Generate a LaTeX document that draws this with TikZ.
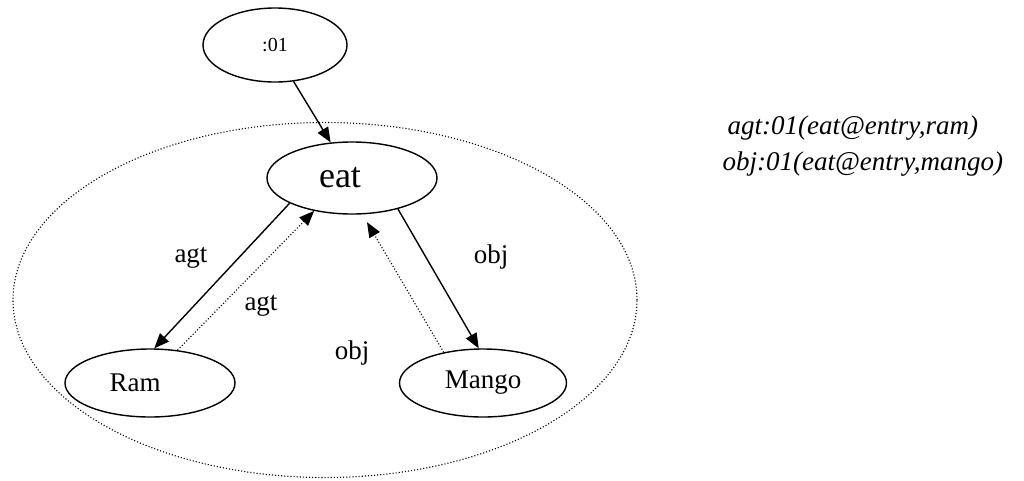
\documentclass[tikz,border=0pt]{standalone}
\usepackage{fontspec}
\setmainfont{Liberation Serif}
\usetikzlibrary{shapes.geometric,arrows.meta}
\tikzset{
  concept/.style={draw, ellipse, line width=1.4pt, inner sep=0pt, minimum width=170pt, minimum height=70pt, font=\fontsize{27}{32}\selectfont},
  rel/.style={line width=1.4pt, -{Triangle[length=15pt,width=12pt]}},
  relback/.style={line width=1.1pt, dotted, -{Triangle[length=15pt,width=12pt]}},
  lbl/.style={font=\fontsize{27}{32}\selectfont},
  expr/.style={anchor=west, font=\fontsize{27}{32}\selectfont\itshape}
}
\begin{document}
\begin{tikzpicture}[x=1pt,y=-1pt]
\useasboundingbox (0,0) rectangle (1024,480);
\node[draw, dotted, line width=1.1pt, ellipse, inner sep=0pt, minimum width=624pt, minimum height=355pt] (scope01) at (325,300) {};
\node[concept, minimum width=144pt, minimum height=74pt, font=\fontsize{20}{24}\selectfont] (id) at (275,45) {:01};
\node[concept, minimum height=72pt, font=\fontsize{36}{40}\selectfont] (eat) at (352,178) {\hspace*{-24pt}eat};
\node[concept, minimum height=68pt] (ram) at (150,383) {\hspace*{-30pt}Ram};
\node[concept, minimum width=167pt, minimum height=68pt] (mango) at (483,383) {Mango};
\draw[rel] (id.297) -- (eat.121);
\draw[rel] (eat.202) -- (ram.83);
\draw[relback] (ram.50) -- (eat.221);
\draw[rel] (eat.326) -- (mango.97);
\draw[relback, shorten >=9pt] (mango.142) -- (eat.286);
\node[lbl] (l1) at (191,258) {agt};
\node[lbl] (l2) at (261,306) {agt};
\node[lbl] (l3) at (491,257) {obj};
\node[lbl] (l4) at (352,353) {obj};
\node[expr] (e1) at (724,128) {agt:01(eat@entry,ram)};
\node[expr] (e2) at (719,164) {obj:01(eat@entry,mango)};
\end{tikzpicture}
\end{document}
